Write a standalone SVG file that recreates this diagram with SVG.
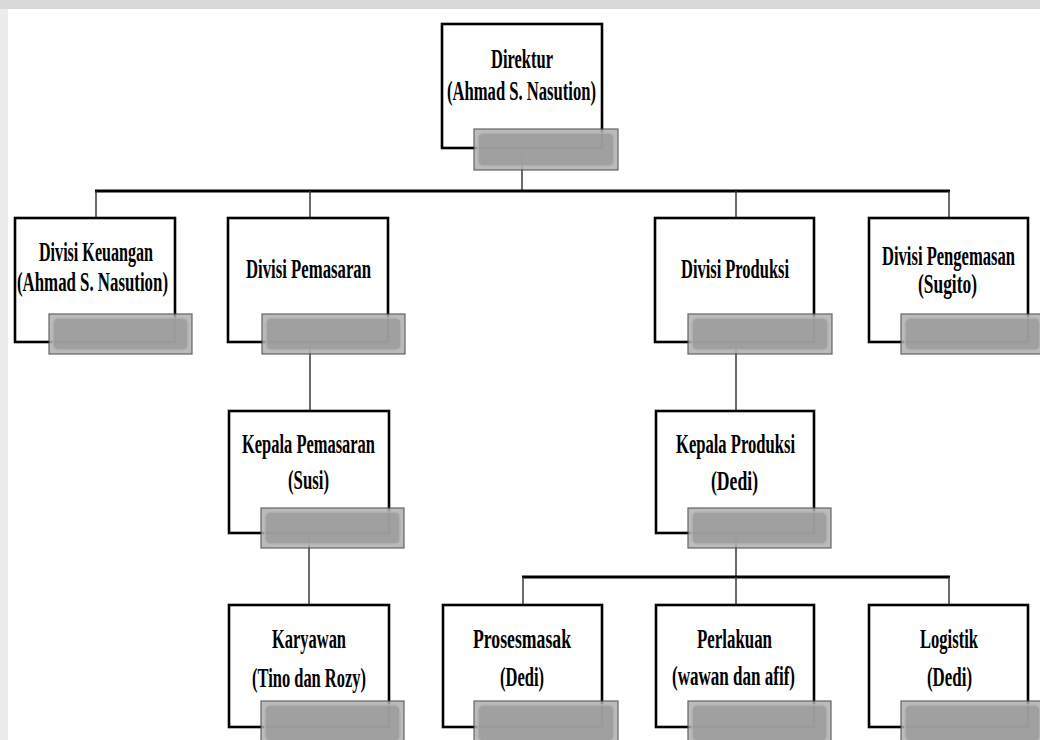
<svg xmlns="http://www.w3.org/2000/svg" width="1040" height="740" viewBox="0 0 1040 740">
<style>
.bx{fill:#fff;stroke:#000;stroke-width:2.6}
.sh{fill:#b0b0b0;stroke:#4a4a4a;stroke-width:1.2;opacity:0.85}
.shi{fill:#9c9c9c;stroke:#b4b4b4;stroke-width:1.5;opacity:0.85}
.t{font-family:"Liberation Serif","Times New Roman",serif;font-weight:bold;font-size:27px;fill:#000}
.ln{stroke:#3a3a3a;stroke-width:1.5;fill:none}
.bar{stroke:#000;stroke-width:3;fill:none}
</style>
<rect x="0" y="0" width="1040" height="740" fill="#fff"/>
<g id="watermark">
<rect x="0" y="0" width="1040" height="9" fill="#d9d9d9"/>
<rect x="0" y="9" width="8" height="731" fill="#ececec"/>
</g>
<g id="connectors">
<line class="ln" x1="522" y1="148" x2="522" y2="191"/>
<line class="bar" x1="95" y1="191" x2="950" y2="191"/>
<line class="ln" x1="96" y1="191" x2="96" y2="218"/>
<line class="ln" x1="310" y1="191" x2="310" y2="218"/>
<line class="ln" x1="736" y1="191" x2="736" y2="218"/>
<line class="ln" x1="949" y1="191" x2="949" y2="218"/>
<line class="ln" x1="310" y1="342" x2="310" y2="411"/>
<line class="ln" x1="736" y1="342" x2="736" y2="411"/>
<line class="ln" x1="309" y1="533" x2="309" y2="605"/>
<line class="ln" x1="736" y1="533" x2="736" y2="577"/>
<line class="bar" x1="522" y1="577" x2="950" y2="577"/>
<line class="ln" x1="523" y1="577" x2="523" y2="605"/>
<line class="ln" x1="736" y1="577" x2="736" y2="605"/>
<line class="ln" x1="949" y1="577" x2="949" y2="605"/>
</g>
<g id="direktur">
<rect class="bx" x="442" y="24" width="160" height="124"/>
<rect class="sh" x="474" y="129" width="144" height="41"/>
<rect class="shi" x="478" y="133" width="136" height="33" rx="5"/>
<text class="t" x="491" y="68" textLength="62" lengthAdjust="spacingAndGlyphs">Direktur</text>
<text class="t" x="447" y="100" textLength="149" lengthAdjust="spacingAndGlyphs">(Ahmad S. Nasution)</text>
</g>
<g id="keuangan">
<rect class="bx" x="15" y="218" width="160" height="124"/>
<rect class="sh" x="49" y="314" width="143" height="40"/>
<rect class="shi" x="53" y="318" width="135" height="32" rx="5"/>
<text class="t" x="39" y="261" textLength="114" lengthAdjust="spacingAndGlyphs">Divisi Keuangan</text>
<text class="t" x="17" y="291" textLength="151" lengthAdjust="spacingAndGlyphs">(Ahmad S. Nasution)</text>
</g>
<g id="pemasaran">
<rect class="bx" x="228" y="218" width="160" height="124"/>
<rect class="sh" x="262" y="314" width="143" height="40"/>
<rect class="shi" x="266" y="318" width="135" height="32" rx="5"/>
<text class="t" x="246" y="278" textLength="125" lengthAdjust="spacingAndGlyphs">Divisi Pemasaran</text>
</g>
<g id="produksi">
<rect class="bx" x="655" y="218" width="159" height="124"/>
<rect class="sh" x="688" y="314" width="144" height="40"/>
<rect class="shi" x="692" y="318" width="136" height="32" rx="5"/>
<text class="t" x="681" y="278" textLength="108" lengthAdjust="spacingAndGlyphs">Divisi Produksi</text>
</g>
<g id="pengemasan">
<rect class="bx" x="869" y="218" width="159" height="124"/>
<rect class="sh" x="901" y="314" width="143" height="40"/>
<rect class="shi" x="905" y="318" width="135" height="32" rx="5"/>
<text class="t" x="882" y="265" textLength="133" lengthAdjust="spacingAndGlyphs">Divisi Pengemasan</text>
<text class="t" x="918" y="293" textLength="59" lengthAdjust="spacingAndGlyphs">(Sugito)</text>
</g>
<g id="kepala-pemasaran">
<rect class="bx" x="229" y="411" width="160" height="122"/>
<rect class="sh" x="261" y="508" width="143" height="40"/>
<rect class="shi" x="265" y="512" width="135" height="32" rx="5"/>
<text class="t" x="242" y="453" textLength="133" lengthAdjust="spacingAndGlyphs">Kepala Pemasaran</text>
<text class="t" x="288" y="489" textLength="41" lengthAdjust="spacingAndGlyphs">(Susi)</text>
</g>
<g id="kepala-produksi">
<rect class="bx" x="656" y="411" width="158" height="122"/>
<rect class="sh" x="688" y="508" width="143" height="40"/>
<rect class="shi" x="692" y="512" width="135" height="32" rx="5"/>
<text class="t" x="676" y="453" textLength="119" lengthAdjust="spacingAndGlyphs">Kepala Produksi</text>
<text class="t" x="711" y="490" textLength="47" lengthAdjust="spacingAndGlyphs">(Dedi)</text>
</g>
<g id="karyawan">
<rect class="bx" x="229" y="605" width="160" height="122"/>
<rect class="sh" x="261" y="701" width="143" height="42"/>
<rect class="shi" x="265" y="705" width="135" height="36" rx="5"/>
<text class="t" x="272" y="648" textLength="74" lengthAdjust="spacingAndGlyphs">Karyawan</text>
<text class="t" x="252" y="687" textLength="114" lengthAdjust="spacingAndGlyphs">(Tino dan Rozy)</text>
</g>
<g id="prosesmasak">
<rect class="bx" x="443" y="605" width="159" height="122"/>
<rect class="sh" x="474" y="701" width="144" height="42"/>
<rect class="shi" x="478" y="705" width="136" height="36" rx="5"/>
<text class="t" x="473" y="648" textLength="98" lengthAdjust="spacingAndGlyphs">Prosesmasak</text>
<text class="t" x="500" y="686" textLength="44" lengthAdjust="spacingAndGlyphs">(Dedi)</text>
</g>
<g id="perlakuan">
<rect class="bx" x="656" y="605" width="158" height="122"/>
<rect class="sh" x="688" y="701" width="143" height="42"/>
<rect class="shi" x="692" y="705" width="135" height="36" rx="5"/>
<text class="t" x="697" y="648" textLength="75" lengthAdjust="spacingAndGlyphs">Perlakuan</text>
<text class="t" x="672" y="685" textLength="123" lengthAdjust="spacingAndGlyphs">(wawan dan afif)</text>
</g>
<g id="logistik">
<rect class="bx" x="869" y="605" width="159" height="122"/>
<rect class="sh" x="901" y="701" width="143" height="42"/>
<rect class="shi" x="905" y="705" width="135" height="36" rx="5"/>
<text class="t" x="920" y="648" textLength="58" lengthAdjust="spacingAndGlyphs">Logistik</text>
<text class="t" x="927" y="686" textLength="45" lengthAdjust="spacingAndGlyphs">(Dedi)</text>
</g>
</svg>
